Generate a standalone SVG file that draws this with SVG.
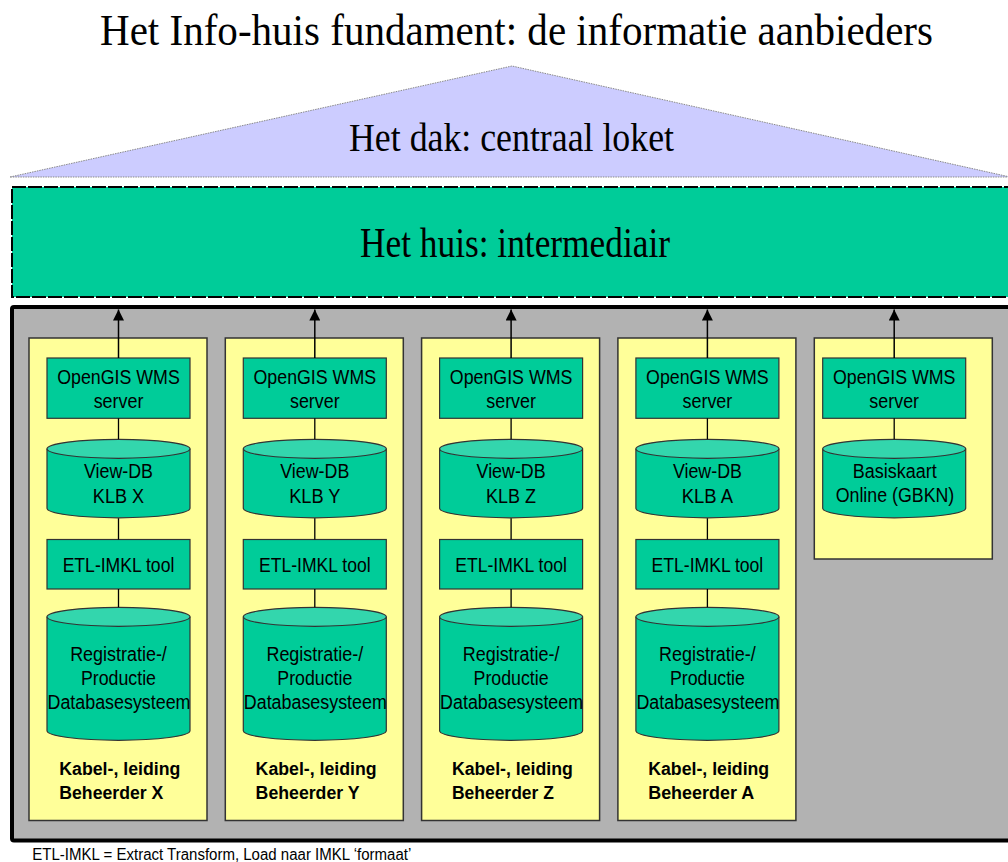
<svg xmlns="http://www.w3.org/2000/svg" width="1008" height="862" viewBox="0 0 1008 862">
  <defs>
    <style>
      .serif { font-family: "Liberation Serif", "Times New Roman", serif; fill: #000; text-anchor: middle; }
      .sans { font-family: "Liberation Sans", Arial, sans-serif; font-size: 20px; fill: #000; text-anchor: middle; }
      .bold { font-family: "Liberation Sans", Arial, sans-serif; font-size: 18px; font-weight: bold; fill: #000; }
      .col { fill: #ffff99; stroke: #333; stroke-width: 1.5; }
      .box { fill: #00cc99; stroke: #333; stroke-width: 1.2; }
      .cyl { fill: #00cc99; stroke: #333; stroke-width: 1.2; }
      .cyltop { fill: #33d6ad; stroke: #333; stroke-width: 1.2; }
      .link { stroke: #000; stroke-width: 1.3; fill: none; }
      .up { stroke: #000; stroke-width: 1.5; fill: none; marker-end: url(#arrow); }
    </style>
    <marker id="arrow" viewBox="0 0 10 10" refX="10" refY="5" markerUnits="userSpaceOnUse" markerWidth="11.5" markerHeight="11" orient="auto">
      <path d="M0,0 L10,5 L0,10 Z" fill="#000"/>
    </marker>
    <!-- cylinder bodies: side walls + bottom arc, top ellipse drawn on top -->
    <g id="cylSmall">
      <path class="cyl" d="M0,9.5 V69 A71.5,9.5 0 0 0 143,69 V9.5"/>
      <ellipse class="cyltop" cx="71.5" cy="9.5" rx="71.5" ry="9.5"/>
    </g>
    <g id="cylLarge">
      <path class="cyl" d="M0,9.5 V123.5 A71.5,9.5 0 0 0 143,123.5 V9.5"/>
      <ellipse class="cyltop" cx="71.5" cy="9.5" rx="71.5" ry="9.5"/>
    </g>
  </defs>

  <rect width="1008" height="862" fill="#fff"/>

  <!-- title -->
  <text id="title" class="serif" x="516.5" y="45" font-size="44" textLength="833" lengthAdjust="spacingAndGlyphs">Het Info-huis fundament: de informatie aanbieders</text>

  <!-- roof -->
  <g id="roof">
    <polygon points="10,177 512,66 1010,177" fill="#ccccff" stroke="#8a8a8a" stroke-width="1" stroke-dasharray="1.5 1"/>
    <text class="serif" x="511.5" y="151" font-size="41" textLength="325" lengthAdjust="spacingAndGlyphs">Het dak: centraal loket</text>
  </g>

  <!-- house / intermediary -->
  <g id="house">
    <rect x="12" y="187" width="1010" height="110" fill="#00cc99" stroke="#000" stroke-width="2" stroke-dasharray="14 2"/>
    <text class="serif" x="515" y="257" font-size="42" textLength="310" lengthAdjust="spacingAndGlyphs">Het huis: intermediair</text>
  </g>

  <!-- foundation -->
  <g id="foundation">
    <rect x="12" y="307" width="1010" height="533.5" rx="2" fill="#b2b2b2" stroke="#000" stroke-width="4"/>
  </g>

  <!-- provider X -->
  <g id="provider-x">
    <rect class="col" x="29" y="338" width="178" height="482.5"/>
    <g id="wms-x"><rect class="box" x="47" y="358" width="143" height="60.3"/>
      <text class="sans" x="118.5" y="384" textLength="122.6" lengthAdjust="spacingAndGlyphs">OpenGIS WMS</text>
      <text class="sans" x="118.5" y="407.5" textLength="49.7" lengthAdjust="spacingAndGlyphs">server</text></g>
    <g id="view-x"><use href="#cylSmall" x="47" y="439.3"/>
      <text class="sans" x="118.5" y="477.5" textLength="69" lengthAdjust="spacingAndGlyphs">View-DB</text>
      <text class="sans" x="118.5" y="502.5" textLength="51.3" lengthAdjust="spacingAndGlyphs">KLB X</text></g>
    <g id="etl-x"><rect class="box" x="47" y="539.5" width="143" height="49.5"/>
      <text class="sans" x="118.5" y="571.7" textLength="111.7" lengthAdjust="spacingAndGlyphs">ETL-IMKL tool</text></g>
    <g id="db-x"><use href="#cylLarge" x="47" y="607.3"/>
      <text class="sans" x="118.5" y="661" textLength="96.7" lengthAdjust="spacingAndGlyphs">Registratie-/</text>
      <text class="sans" x="118.5" y="685" textLength="75" lengthAdjust="spacingAndGlyphs">Productie</text>
      <text class="sans" x="119" y="709" textLength="143" lengthAdjust="spacingAndGlyphs">Databasesysteem</text></g>
    <text class="bold" x="59.3" y="775" textLength="121" lengthAdjust="spacingAndGlyphs">Kabel-, leiding</text>
    <text class="bold" x="59.3" y="799" textLength="104" lengthAdjust="spacingAndGlyphs">Beheerder X</text>
  </g>

  <!-- provider Y -->
  <g id="provider-y">
    <rect class="col" x="225.3" y="338" width="178" height="482.5"/>
    <g id="wms-y"><rect class="box" x="243.3" y="358" width="143" height="60.3"/>
      <text class="sans" x="314.8" y="384" textLength="122.6" lengthAdjust="spacingAndGlyphs">OpenGIS WMS</text>
      <text class="sans" x="314.8" y="407.5" textLength="49.7" lengthAdjust="spacingAndGlyphs">server</text></g>
    <g id="view-y"><use href="#cylSmall" x="243.3" y="439.3"/>
      <text class="sans" x="314.8" y="477.5" textLength="69" lengthAdjust="spacingAndGlyphs">View-DB</text>
      <text class="sans" x="314.8" y="502.5" textLength="51.3" lengthAdjust="spacingAndGlyphs">KLB Y</text></g>
    <g id="etl-y"><rect class="box" x="243.3" y="539.5" width="143" height="49.5"/>
      <text class="sans" x="314.8" y="571.7" textLength="111.7" lengthAdjust="spacingAndGlyphs">ETL-IMKL tool</text></g>
    <g id="db-y"><use href="#cylLarge" x="243.3" y="607.3"/>
      <text class="sans" x="314.8" y="661" textLength="96.7" lengthAdjust="spacingAndGlyphs">Registratie-/</text>
      <text class="sans" x="314.8" y="685" textLength="75" lengthAdjust="spacingAndGlyphs">Productie</text>
      <text class="sans" x="315.3" y="709" textLength="143" lengthAdjust="spacingAndGlyphs">Databasesysteem</text></g>
    <text class="bold" x="255.6" y="775" textLength="121" lengthAdjust="spacingAndGlyphs">Kabel-, leiding</text>
    <text class="bold" x="255.6" y="799" textLength="104" lengthAdjust="spacingAndGlyphs">Beheerder Y</text>
  </g>

  <!-- provider Z -->
  <g id="provider-z">
    <rect class="col" x="421.6" y="338" width="178" height="482.5"/>
    <g id="wms-z"><rect class="box" x="439.6" y="358" width="143" height="60.3"/>
      <text class="sans" x="511.1" y="384" textLength="122.6" lengthAdjust="spacingAndGlyphs">OpenGIS WMS</text>
      <text class="sans" x="511.1" y="407.5" textLength="49.7" lengthAdjust="spacingAndGlyphs">server</text></g>
    <g id="view-z"><use href="#cylSmall" x="439.6" y="439.3"/>
      <text class="sans" x="511.1" y="477.5" textLength="69" lengthAdjust="spacingAndGlyphs">View-DB</text>
      <text class="sans" x="511.1" y="502.5" textLength="50" lengthAdjust="spacingAndGlyphs">KLB Z</text></g>
    <g id="etl-z"><rect class="box" x="439.6" y="539.5" width="143" height="49.5"/>
      <text class="sans" x="511.1" y="571.7" textLength="111.7" lengthAdjust="spacingAndGlyphs">ETL-IMKL tool</text></g>
    <g id="db-z"><use href="#cylLarge" x="439.6" y="607.3"/>
      <text class="sans" x="511.1" y="661" textLength="96.7" lengthAdjust="spacingAndGlyphs">Registratie-/</text>
      <text class="sans" x="511.1" y="685" textLength="75" lengthAdjust="spacingAndGlyphs">Productie</text>
      <text class="sans" x="511.6" y="709" textLength="143" lengthAdjust="spacingAndGlyphs">Databasesysteem</text></g>
    <text class="bold" x="451.9" y="775" textLength="121" lengthAdjust="spacingAndGlyphs">Kabel-, leiding</text>
    <text class="bold" x="451.9" y="799" textLength="102" lengthAdjust="spacingAndGlyphs">Beheerder Z</text>
  </g>

  <!-- provider A -->
  <g id="provider-a">
    <rect class="col" x="617.9" y="338" width="178" height="482.5"/>
    <g id="wms-a"><rect class="box" x="635.9" y="358" width="143" height="60.3"/>
      <text class="sans" x="707.4" y="384" textLength="122.6" lengthAdjust="spacingAndGlyphs">OpenGIS WMS</text>
      <text class="sans" x="707.4" y="407.5" textLength="49.7" lengthAdjust="spacingAndGlyphs">server</text></g>
    <g id="view-a"><use href="#cylSmall" x="635.9" y="439.3"/>
      <text class="sans" x="707.4" y="477.5" textLength="69" lengthAdjust="spacingAndGlyphs">View-DB</text>
      <text class="sans" x="707.4" y="502.5" textLength="51.3" lengthAdjust="spacingAndGlyphs">KLB A</text></g>
    <g id="etl-a"><rect class="box" x="635.9" y="539.5" width="143" height="49.5"/>
      <text class="sans" x="707.4" y="571.7" textLength="111.7" lengthAdjust="spacingAndGlyphs">ETL-IMKL tool</text></g>
    <g id="db-a"><use href="#cylLarge" x="635.9" y="607.3"/>
      <text class="sans" x="707.4" y="661" textLength="96.7" lengthAdjust="spacingAndGlyphs">Registratie-/</text>
      <text class="sans" x="707.4" y="685" textLength="75" lengthAdjust="spacingAndGlyphs">Productie</text>
      <text class="sans" x="707.9" y="709" textLength="143" lengthAdjust="spacingAndGlyphs">Databasesysteem</text></g>
    <text class="bold" x="648.2" y="775" textLength="121" lengthAdjust="spacingAndGlyphs">Kabel-, leiding</text>
    <text class="bold" x="648.2" y="799" textLength="106" lengthAdjust="spacingAndGlyphs">Beheerder A</text>
  </g>

  <!-- base map provider -->
  <g id="provider-gbkn">
    <rect class="col" x="814.3" y="338" width="178" height="221"/>
    <g id="wms-gbkn"><rect class="box" x="822.7" y="358" width="143" height="60.3"/>
      <text class="sans" x="894.2" y="384" textLength="122.6" lengthAdjust="spacingAndGlyphs">OpenGIS WMS</text>
      <text class="sans" x="894.2" y="407.5" textLength="49.7" lengthAdjust="spacingAndGlyphs">server</text></g>
    <g id="db-gbkn"><use href="#cylSmall" x="822.7" y="439.3"/>
      <text class="sans" x="894.7" y="477.5" textLength="84" lengthAdjust="spacingAndGlyphs">Basiskaart</text>
      <text class="sans" x="895" y="501.5" textLength="118.6" lengthAdjust="spacingAndGlyphs">Online (GBKN)</text></g>
  </g>

  <!-- connectors -->
  <g id="connectors">
    <line class="up" x1="118.5" y1="358" x2="118.5" y2="309.5"/>
    <line class="up" x1="314.8" y1="358" x2="314.8" y2="309.5"/>
    <line class="up" x1="511.1" y1="358" x2="511.1" y2="309.5"/>
    <line class="up" x1="707.4" y1="358" x2="707.4" y2="309.5"/>
    <line class="up" x1="894.2" y1="358" x2="894.2" y2="309.5"/>

    <path class="link" d="M118.5,418.3 V439.3 M118.5,518.3 V539.5 M118.5,589 V607.3"/>
    <path class="link" d="M314.8,418.3 V439.3 M314.8,518.3 V539.5 M314.8,589 V607.3"/>
    <path class="link" d="M511.1,418.3 V439.3 M511.1,518.3 V539.5 M511.1,589 V607.3"/>
    <path class="link" d="M707.4,418.3 V439.3 M707.4,518.3 V539.5 M707.4,589 V607.3"/>
    <path class="link" d="M894.2,418.3 V439.3"/>
  </g>

  <!-- footnote -->
  <text id="footnote" x="32.3" y="860" font-family="Liberation Sans, Arial, sans-serif" font-size="16" textLength="379" lengthAdjust="spacingAndGlyphs">ETL-IMKL = Extract Transform, Load naar IMKL ‘formaat’</text>
</svg>
